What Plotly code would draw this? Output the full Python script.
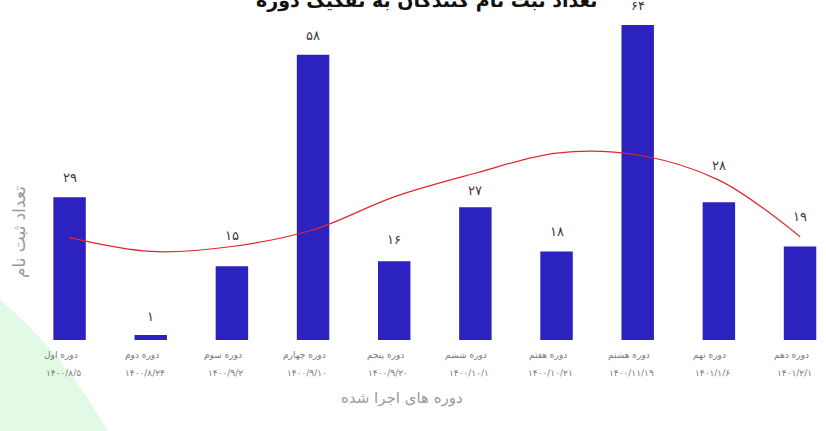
"""Enrolment per course run: bar chart with a red trend curve (Persian labels)."""

import plotly.graph_objects as go

# ---------------------------------------------------------------------------
# Data
# ---------------------------------------------------------------------------
COURSES = [
    "دوره اول", "دوره دوم", "دوره سوم", "دوره چهارم", "دوره پنجم",
    "دوره ششم", "دوره هفتم", "دوره هشتم", "دوره نهم", "دوره دهم",
]
DATES = [
    "۱۴۰۰/۸/۵", "۱۴۰۰/۸/۲۴", "۱۴۰۰/۹/۲", "۱۴۰۰/۹/۱۰", "۱۴۰۰/۹/۲۰",
    "۱۴۰۰/۱۰/۱", "۱۴۰۰/۱۰/۲۱", "۱۴۰۰/۱۱/۱۹", "۱۴۰۱/۱/۶", "۱۴۰۱/۲/۱",
]
ENROLLED = [29, 1, 15, 58, 16, 27, 18, 64, 28, 19]
# red trend curve at each course
TREND = [20.8, 18.0, 19.0, 22.4, 29.1, 33.9, 38.0, 37.6, 32.5, 21.0]

TITLE = "تعداد ثبت نام کنندگان به تفکیک دوره"
Y_TITLE = "تعداد ثبت نام"
X_TITLE = "دوره های اجرا شده"

# ---------------------------------------------------------------------------
# Styling
# ---------------------------------------------------------------------------
W, H = 826, 431
L, R, T, B = 29, 0, 10, 91
PW, PH = W - L - R, H - T - B
FONT = "DejaVu Sans"
BAR_COLOUR = "#2B22C0"
TREND_COLOUR = "#E3262B"
# how far (px) each value label sits above its bar
LABEL_LIFT = [20, 19, 31, 19, 22, 17, 20, 20, 37, 30]

_FA = str.maketrans("0123456789", "۰۱۲۳۴۵۶۷۸۹")


def px_x(px):
    return (px - L) / PW


def px_y(py):
    return (T + PH - py) / PH


fig = go.Figure()

fig.add_trace(
    go.Bar(
        x=COURSES,
        y=ENROLLED,
        width=0.4,
        marker=dict(color=BAR_COLOUR, line=dict(width=0)),
        hoverinfo="skip",
    )
)

fig.add_trace(
    go.Scatter(
        x=COURSES,
        y=TREND,
        mode="lines",
        line=dict(color=TREND_COLOUR, width=1.2, shape="spline", smoothing=1.0),
        hoverinfo="skip",
    )
)

annotations = []

# value labels above the bars
for c, v, lift in zip(COURSES, ENROLLED, LABEL_LIFT):
    annotations.append(dict(
        x=c, y=v, xref="x", yref="y", yanchor="middle", yshift=lift,
        text=str(v).translate(_FA), showarrow=False,
        font=dict(family=FONT, size=13, color="#3a3a3a"),
    ))

# two-row category labels
for c, d in zip(COURSES, DATES):
    annotations.append(dict(
        x=c, y=px_y(355), xref="x", yref="paper", yanchor="middle", xshift=-9,
        text=c, showarrow=False, font=dict(family=FONT, size=9, color="#7a7a7a"),
    ))
    annotations.append(dict(
        x=c, y=px_y(373), xref="x", yref="paper", yanchor="middle", xshift=-6,
        text=d, showarrow=False, font=dict(family=FONT, size=9, color="#7a7a7a"),
    ))

# axis titles and the (cropped) chart title
annotations += [
    dict(x=px_x(402), y=px_y(398), xref="paper", yref="paper",
         xanchor="center", yanchor="middle",
         text=X_TITLE, showarrow=False,
         font=dict(family=FONT, size=15, color="#9a9a9a")),
    dict(x=px_x(19), y=px_y(232), xref="paper", yref="paper",
         xanchor="center", yanchor="middle", textangle=-90,
         text=Y_TITLE, showarrow=False,
         font=dict(family=FONT, size=17, color="#9a9a9a")),
    dict(x=px_x(426), y=px_y(0), xref="paper", yref="paper",
         xanchor="center", yanchor="middle",
         text="<b>" + TITLE + "</b>", showarrow=False,
         font=dict(family=FONT, size=19, color="#111111")),
]

# mint page decoration in the lower-left corner
CX, CY, CR = -300, 655, 465
fig.add_shape(
    type="circle", xref="paper", yref="paper", layer="below",
    x0=px_x(CX - CR), x1=px_x(CX + CR),
    y0=px_y(CY + CR), y1=px_y(CY - CR),
    fillcolor="#E2FAE5", line=dict(width=0),
)

fig.update_layout(
    width=W,
    height=H,
    margin=dict(l=L, r=R, t=T, b=B, autoexpand=False),
    paper_bgcolor="white",
    plot_bgcolor="rgba(0,0,0,0)",
    showlegend=False,
    annotations=annotations,
    xaxis=dict(
        range=[-0.5, 9.32], showticklabels=False, showgrid=False,
        zeroline=False, showline=False, ticks="", fixedrange=True,
    ),
    yaxis=dict(
        range=[0, PH / 4.92], showticklabels=False, showgrid=False,
        zeroline=False, showline=False, ticks="", fixedrange=True,
    ),
)

# drop the browser's default 8px body margin so the figure sits at (0, 0)
fig.write_html(
    "out.html",
    config={"displayModeBar": False},
    post_script="document.body.style.margin='0';document.body.style.overflow='hidden';",
)
